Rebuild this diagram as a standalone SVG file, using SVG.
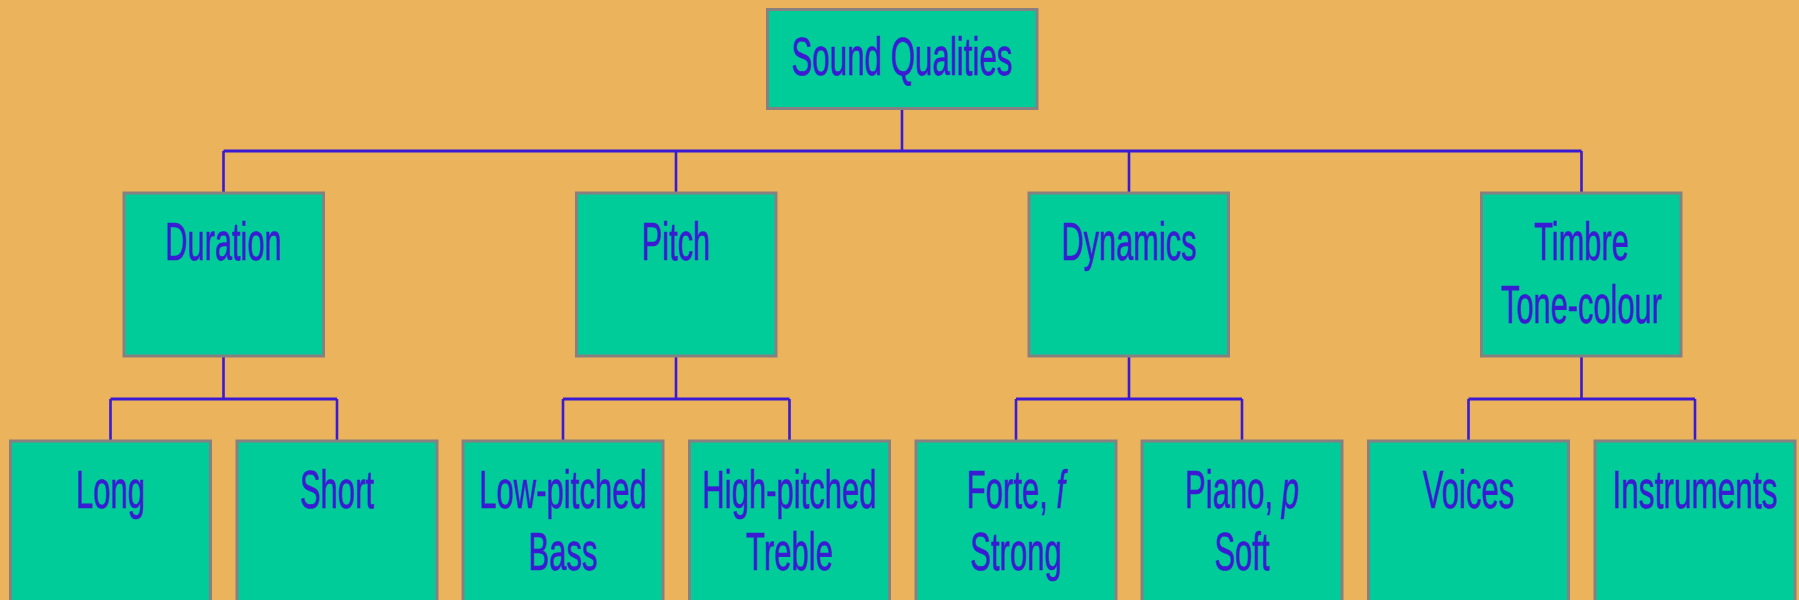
<svg xmlns="http://www.w3.org/2000/svg" width="1799" height="600" viewBox="0 0 1799 600">
<style>
.box{fill:#00CC99;stroke:#878080;stroke-width:3}
.t{font-family:"Liberation Sans",Arial,sans-serif;font-size:54px;fill:#3A1AD2;stroke:#3A1AD2;stroke-width:0.6;text-anchor:middle}
.c{fill:none;stroke:#3A1AD2;stroke-width:2.6}
.h{fill:none;stroke:#3A1AD2;stroke-width:3.2}
</style>
<rect width="1799" height="600" fill="#EBB45C"/>
<g id="connectors">
<path class="c" d="M902 109V151"/>
<path class="h" d="M223.5 151H1581.5"/>
<path class="c" d="M223.5 151V193M676 151V193M1129 151V193M1581.5 151V193"/>
<path class="c" d="M223.5 356V399M676 356V399M1129 356V399M1581.5 356V399"/>
<path class="h" d="M110.5 399H337M563 399H789.5M1016 399H1242M1468.5 399H1695"/>
<path class="c" d="M110.5 399V441M337 399V441M563 399V441M789.5 399V441M1016 399V441M1242 399V441M1468.5 399V441M1695 399V441"/>
</g>
<g id="root"><rect class="box" x="767.5" y="9.5" width="269.5" height="99"/><text class="t" transform="translate(902,75) scale(0.58,1)">Sound Qualities</text></g>
<g id="duration"><rect class="box" x="124" y="193" width="199.5" height="163"/><text class="t" transform="translate(223.5,260) scale(0.57,1)">Duration</text></g>
<g id="pitch"><rect class="box" x="576.5" y="193" width="199.5" height="163"/><text class="t" transform="translate(676,260) scale(0.57,1)">Pitch</text></g>
<g id="dynamics"><rect class="box" x="1029" y="193" width="199.5" height="163"/><text class="t" transform="translate(1129,260) scale(0.57,1)">Dynamics</text></g>
<g id="timbre"><rect class="box" x="1481.5" y="193" width="199.5" height="163"/><text class="t" transform="translate(1581.5,259.5) scale(0.57,1)">Timbre</text><text class="t" transform="translate(1581.5,323) scale(0.57,1)">Tone-colour</text></g>
<g id="long"><rect class="box" x="10.5" y="441" width="200" height="200"/><text class="t" transform="translate(110.5,507.5) scale(0.575,1)">Long</text></g>
<g id="short"><rect class="box" x="237" y="441" width="200" height="200"/><text class="t" transform="translate(337,507.5) scale(0.575,1)">Short</text></g>
<g id="low"><rect class="box" x="463" y="441" width="200" height="200"/><text class="t" transform="translate(563,507.5) scale(0.575,1)">Low-pitched</text><text class="t" transform="translate(563,570) scale(0.575,1)">Bass</text></g>
<g id="high"><rect class="box" x="689.5" y="441" width="200" height="200"/><text class="t" transform="translate(789.5,507.5) scale(0.575,1)">High-pitched</text><text class="t" transform="translate(789.5,570) scale(0.575,1)">Treble</text></g>
<g id="forte"><rect class="box" x="916" y="441" width="200" height="200"/><text class="t" transform="translate(1016,507.5) scale(0.575,1)">Forte, <tspan font-style="italic">f</tspan></text><text class="t" transform="translate(1016,570) scale(0.575,1)">Strong</text></g>
<g id="piano"><rect class="box" x="1142" y="441" width="200" height="200"/><text class="t" transform="translate(1242,507.5) scale(0.575,1)">Piano, <tspan font-style="italic">p</tspan></text><text class="t" transform="translate(1242,570) scale(0.575,1)">Soft</text></g>
<g id="voices"><rect class="box" x="1368.5" y="441" width="200" height="200"/><text class="t" transform="translate(1468.5,507.5) scale(0.575,1)">Voices</text></g>
<g id="instruments"><rect class="box" x="1595" y="441" width="200" height="200"/><text class="t" transform="translate(1695,507.5) scale(0.585,1)">Instruments</text></g>
</svg>
